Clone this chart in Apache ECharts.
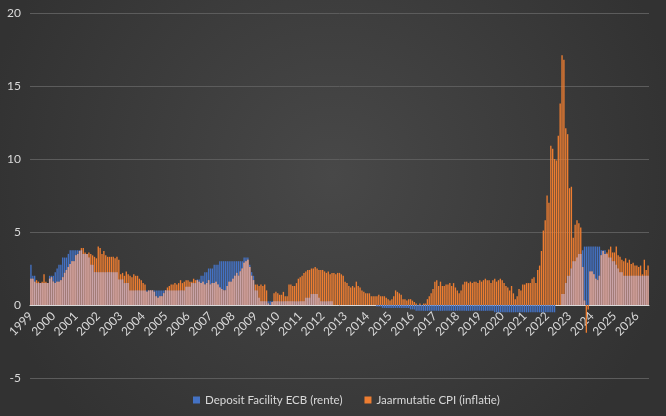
<!DOCTYPE html>
<html lang="nl">

<head>
    <meta charset="utf-8">
    <title>ECB rente vs inflatie</title>
    <script src="https://cdn.jsdelivr.net/npm/echarts/dist/echarts.min.js"></script>
    <style>
        html,
        body {
            margin: 0;
            height: 100%;
            background: #333;
        }

        #chart {
            width: 666px;
            height: 416px;
        }
    </style>
</head>

<body>
    <div id="chart"></div>
    <script>
        // jaartallen voor de x-as (elke januari een label)
        var years = [1999, 2000, 2001, 2002, 2003, 2004, 2005, 2006, 2007, 2008, 2009, 2010, 2011, 2012,
            2013, 2014, 2015, 2016, 2017, 2018, 2019, 2020, 2021, 2022, 2023, 2024, 2025, 2026];

        // Deposit Facility ECB, maandwaarden vanaf jan 1999
        var depositRate = [
            2.75, 2.0, 2.0, 1.5, 1.5, 1.5, 1.5, 1.5, 1.5, 1.5, 2.0, 2.0,
            2.0, 2.25, 2.5, 2.75, 2.75, 3.25, 3.25, 3.25, 3.5, 3.75, 3.75, 3.75,
            3.75, 3.75, 3.75, 3.75, 3.5, 3.5, 3.5, 3.25, 2.75, 2.75, 2.25, 2.25,
            2.25, 2.25, 2.25, 2.25, 2.25, 2.25, 2.25, 2.25, 2.25, 2.25, 2.25, 1.75,
            1.75, 1.75, 1.5, 1.5, 1.5, 1.0, 1.0, 1.0, 1.0, 1.0, 1.0, 1.0,
            1.0, 1.0, 1.0, 1.0, 1.0, 1.0, 1.0, 1.0, 1.0, 1.0, 1.0, 1.0,
            1.0, 1.0, 1.0, 1.0, 1.0, 1.0, 1.0, 1.0, 1.0, 1.0, 1.0, 1.25,
            1.25, 1.25, 1.5, 1.5, 1.5, 1.75, 1.75, 2.0, 2.0, 2.25, 2.25, 2.5,
            2.5, 2.5, 2.75, 2.75, 2.75, 3.0, 3.0, 3.0, 3.0, 3.0, 3.0, 3.0,
            3.0, 3.0, 3.0, 3.0, 3.0, 3.0, 3.25, 3.25, 3.25, 2.75, 2.25, 2.0,
            1.0, 1.0, 0.5, 0.25, 0.25, 0.25, 0.25, 0.25, 0.25, 0.25, 0.25, 0.25,
            0.25, 0.25, 0.25, 0.25, 0.25, 0.25, 0.25, 0.25, 0.25, 0.25, 0.25, 0.25,
            0.25, 0.25, 0.25, 0.5, 0.5, 0.5, 0.75, 0.75, 0.75, 0.75, 0.5, 0.25,
            0.25, 0.25, 0.25, 0.25, 0.25, 0.25, 0, 0, 0, 0, 0, 0,
            0, 0, 0, 0, 0, 0, 0, 0, 0, 0, 0, 0,
            0, 0, 0, 0, 0, -0.1, -0.1, -0.1, -0.2, -0.2, -0.2, -0.2,
            -0.2, -0.2, -0.2, -0.2, -0.2, -0.2, -0.2, -0.2, -0.2, -0.2, -0.2, -0.3,
            -0.3, -0.3, -0.4, -0.4, -0.4, -0.4, -0.4, -0.4, -0.4, -0.4, -0.4, -0.4,
            -0.4, -0.4, -0.4, -0.4, -0.4, -0.4, -0.4, -0.4, -0.4, -0.4, -0.4, -0.4,
            -0.4, -0.4, -0.4, -0.4, -0.4, -0.4, -0.4, -0.4, -0.4, -0.4, -0.4, -0.4,
            -0.4, -0.4, -0.4, -0.4, -0.4, -0.4, -0.4, -0.4, -0.5, -0.5, -0.5, -0.5,
            -0.5, -0.5, -0.5, -0.5, -0.5, -0.5, -0.5, -0.5, -0.5, -0.5, -0.5, -0.5,
            -0.5, -0.5, -0.5, -0.5, -0.5, -0.5, -0.5, -0.5, -0.5, -0.5, -0.5, -0.5,
            -0.5, -0.5, -0.5, -0.5, -0.5, 0, 0, 0, 0.75, 0.75, 1.5, 2.0,
            2.0, 2.5, 3.0, 3.0, 3.25, 3.5, 3.5, 3.75, 4.0, 4.0, 4.0, 4.0,
            4.0, 4.0, 4.0, 4.0, 4.0, 3.75, 3.75, 3.75, 3.5, 3.25, 3.25, 3.0,
            3.0, 2.75, 2.5, 2.25, 2.25, 2.0, 2.0, 2.0, 2.0, 2.0, 2.0, 2.0,
            2.0, 2.0, 2.0, 2.0, 2.0, 2.0, 2.0
        ];

        // Jaarmutatie CPI, maandwaarden vanaf jan 1999
        var cpiInflation = [
            1.8, 1.8, 1.6, 1.7, 1.6, 1.5, 1.6, 2.1, 1.6, 1.5, 1.8, 1.9,
            1.6, 1.5, 1.6, 1.6, 1.7, 1.9, 2.2, 2.4, 2.6, 2.8, 3.0, 3.0,
            3.4, 3.5, 3.7, 3.9, 3.9, 3.6, 3.5, 3.6, 3.5, 3.4, 3.3, 3.2,
            4.0, 3.9, 3.5, 3.7, 3.4, 3.3, 3.3, 3.3, 3.3, 3.2, 3.3, 3.1,
            2.1, 2.2, 2.0, 2.3, 2.1, 2.0, 1.9, 2.1, 2.0, 2.0, 1.8, 1.7,
            1.5, 1.4, 0.9, 1.0, 1.0, 1.0, 0.9, 0.6, 0.5, 0.6, 0.6, 0.8,
            1.0, 1.2, 1.3, 1.4, 1.4, 1.5, 1.4, 1.5, 1.7, 1.5, 1.6, 1.7,
            1.7, 1.6, 1.6, 1.8, 1.7, 1.7, 1.6, 1.5, 1.6, 1.4, 1.5, 1.7,
            1.4, 1.5, 1.5, 1.6, 1.4, 1.2, 1.1, 1.0, 1.0, 1.3, 1.6, 1.6,
            1.8, 2.0, 2.2, 2.0, 2.3, 2.5, 2.9, 3.0, 3.1, 2.6, 2.0, 1.7,
            1.4, 1.4, 1.3, 1.4, 1.3, 1.4, 1.0, 0.1, 0.0, 0.2, 0.8, 0.9,
            0.8, 0.7, 0.7, 0.9, 0.6, 0.6, 1.4, 1.4, 1.3, 1.3, 1.5, 1.8,
            1.9, 2.0, 2.2, 2.3, 2.4, 2.4, 2.5, 2.5, 2.6, 2.5, 2.4, 2.4,
            2.4, 2.3, 2.2, 2.3, 2.1, 2.2, 2.2, 2.1, 2.2, 2.2, 2.1, 2.0,
            1.6, 1.5, 1.3, 1.2, 1.3, 1.2, 1.6, 1.3, 1.2, 1.0, 0.9, 0.8,
            0.8, 0.8, 0.6, 0.6, 0.6, 0.6, 0.7, 0.6, 0.6, 0.6, 0.5, 0.4,
            0.3, 0.4, 0.6, 1.0, 0.9, 0.8, 0.7, 0.4, 0.4, 0.3, 0.4, 0.4,
            0.3, 0.2, 0.1, 0.0, 0.1, 0.0, 0.1, 0.1, 0.4, 0.6, 0.8, 1.1,
            1.6, 1.7, 1.3, 1.6, 1.3, 1.3, 1.4, 1.4, 1.5, 1.3, 1.5, 1.2,
            1.0, 0.8, 1.0, 1.4, 1.6, 1.6, 1.5, 1.6, 1.5, 1.6, 1.6, 1.5,
            1.7, 1.6, 1.7, 1.8, 1.7, 1.7, 1.5, 1.7, 1.8, 1.6, 1.7, 1.8,
            1.7, 1.5, 1.3, 1.2, 1.0, 1.3, 0.8, 0.4, 0.6, 1.1, 1.0, 1.4,
            1.4, 1.5, 1.5, 1.5, 1.8, 1.9, 1.5, 2.4, 2.7, 3.7, 5.1, 5.8,
            7.5, 7.0, 10.9, 10.7, 10.0, 9.9, 11.6, 13.8, 17.1, 16.8, 12.1, 11.7,
            8.0, 8.1, 4.6, 5.5, 5.8, 5.6, 5.3, 2.6, 0.3, -1.9, -0.3, 2.3,
            2.3, 2.1, 1.8, 1.7, 2.0, 3.4, 3.7, 3.5, 3.6, 3.8, 4.0, 3.6,
            3.6, 4.0, 3.4, 3.3, 3.1, 3.0, 3.2, 2.9, 3.1, 2.8, 2.9, 2.7,
            2.7, 2.6, 2.7, 2.1, 3.1, 2.4, 2.7
        ];

        // maandcategorieen opbouwen uit de jaartallen
        var months = [];
        years.forEach(function(y) {
            for (var m = 1; m <= 12; m++) {
                if (months.length < cpiInflation.length) months.push(y + '-' + (m < 10 ? '0' + m : m));
            }
        });

        // deel waar beide staven over elkaar liggen (lichte kleur)
        var overlap = depositRate.map(function(d, i) {
            var c = cpiInflation[i];
            if (d > 0 && c > 0) return Math.min(d, c);
            if (d < 0 && c < 0) return Math.max(d, c);
            return 0;
        });

        var fontFam = 'Lato, "Open Sans", sans-serif';
        var chart = echarts.init(document.getElementById('chart'), null, {
            renderer: 'canvas'
        });

        chart.setOption({
            animation: false,
            backgroundColor: {
                type: 'radial',
                x: 0.5,
                y: 0.42,
                r: 0.85,
                colorStops: [{
                    offset: 0,
                    color: '#484848'
                }, {
                    offset: 1,
                    color: '#323232'
                }]
            },
            grid: {
                left: 30,
                right: 17,
                top: 13,
                bottom: 38
            },
            legend: {
                data: ['Deposit Facility ECB (rente)', 'Jaarmutatie CPI (inflatie)'],
                bottom: 5,
                left: 188,
                icon: 'rect',
                itemWidth: 7,
                itemHeight: 7,
                itemGap: 22,
                textStyle: {
                    color: '#d9d9d9',
                    fontSize: 11.5,
                    fontFamily: fontFam
                }
            },
            xAxis: {
                type: 'category',
                data: months,
                // as ligt op de nullijn (-5 .. 20 → 73 px boven de onderrand)
                offset: -73,
                axisLine: {
                    onZero: false,
                    lineStyle: {
                        color: '#d9d9d9',
                        width: 1
                    }
                },
                axisTick: {
                    show: false
                },
                axisLabel: {
                    interval: 11,
                    rotate: 45,
                    margin: 9,
                    color: '#d9d9d9',
                    fontSize: 12,
                    fontFamily: fontFam,
                    formatter: function(v) {
                        return v.slice(0, 4);
                    }
                }
            },
            yAxis: {
                type: 'value',
                min: -5,
                max: 20,
                interval: 5,
                axisLine: {
                    show: false
                },
                axisTick: {
                    show: false
                },
                axisLabel: {
                    color: '#d9d9d9',
                    fontSize: 12,
                    fontFamily: fontFam,
                    margin: 9
                },
                splitLine: {
                    lineStyle: {
                        color: '#5c5c5c',
                        width: 1
                    }
                }
            },
            series: [{
                name: 'Deposit Facility ECB (rente)',
                type: 'bar',
                data: depositRate,
                barGap: '-100%',
                barCategoryGap: '28%',
                itemStyle: {
                    color: '#4472c4'
                }
            }, {
                name: 'Jaarmutatie CPI (inflatie)',
                type: 'bar',
                data: cpiInflation,
                barGap: '-100%',
                barCategoryGap: '28%',
                itemStyle: {
                    color: '#ed7d31'
                }
            }, {
                name: 'overlap',
                type: 'bar',
                data: overlap,
                barGap: '-100%',
                barCategoryGap: '28%',
                silent: true,
                itemStyle: {
                    color: '#c9a3a8'
                }
            }]
        });
    </script>
</body>

</html>
